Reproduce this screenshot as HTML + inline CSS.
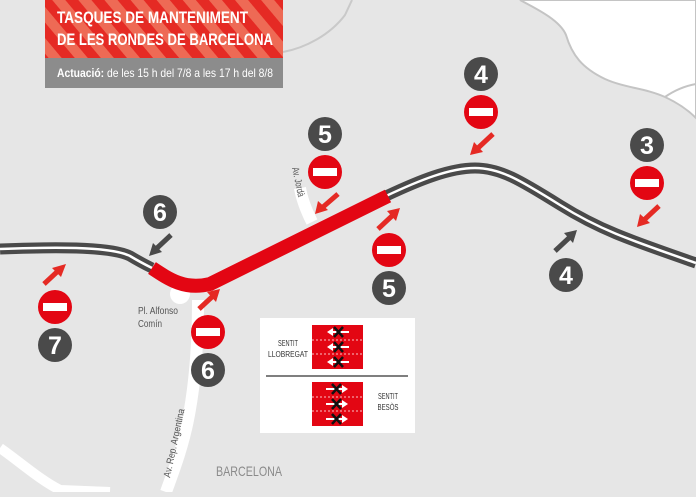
<!DOCTYPE html>
<html><head><meta charset="utf-8"><style>
html,body{margin:0;padding:0;}
body{width:696px;height:492px;overflow:hidden;background:#e6e6e6;font-family:"Liberation Sans",sans-serif;}
</style></head><body>
<svg width="696" height="492" viewBox="0 0 696 492" xmlns="http://www.w3.org/2000/svg" font-family="'Liberation Sans',sans-serif">
<defs>
<pattern id="st" width="20" height="20" patternUnits="userSpaceOnUse" patternTransform="rotate(-40)">
<rect width="20" height="20" fill="#e52a24"/><rect width="10" height="20" fill="#ee6a55"/>
</pattern>
<g id="ne"><circle r="17" fill="#e30613"/><rect x="-12" y="-4" width="24" height="8" fill="#fff"/></g>
</defs>
<rect width="696" height="492" fill="#e6e6e6"/>
<path d="M520,0 C535,8 560,20 566,35 C572,55 582,68 605,79 C625,88 645,88 665,97 C680,104 690,112 696,118 L696,0 Z" fill="#fff" stroke="#c4c4c4" stroke-width="2"/>
<path d="M665,97 C675,90 685,86 696,84" fill="none" stroke="#c4c4c4" stroke-width="2"/>
<path d="M283,52 C305,48 330,35 345,15 L352,0" fill="none" stroke="#c9c9c9" stroke-width="2"/>
<path d="M0,448 C20,462 40,480 60,490 L110,492" fill="none" stroke="#fff" stroke-width="10"/>
<path d="M198,300 C198,340 196,380 188,420 C182,450 172,475 166,492" fill="none" stroke="#fff" stroke-width="12"/>
<circle cx="180" cy="294" r="10" fill="#fff"/>
<path d="M300,188 C302,200 306,210 312,222" fill="none" stroke="#fff" stroke-width="12"/>
<path d="M0,249 C50,247 110,246 130,256 C140,262 148,266 152,268" fill="none" stroke="#4a4a4a" stroke-width="11"/>
<path d="M0,249 C50,247 110,246 130,256 C140,262 148,266 152,268" fill="none" stroke="#fff" stroke-width="2.5"/>
<path d="M386,196 C420,180 450,168 475,168 C500,168 520,180 560,205 C600,230 630,240 696,263" fill="none" stroke="#4a4a4a" stroke-width="11"/>
<path d="M386,196 C420,180 450,168 475,168 C500,168 520,180 560,205 C600,230 630,240 696,263" fill="none" stroke="#fff" stroke-width="2.5"/>
<path d="M152,268 C170,280 185,290 210,284 L388,196" fill="none" stroke="#e30613" stroke-width="14"/>
<g stroke-width="5" fill="none">
<line x1="44" y1="284" x2="58" y2="271" stroke="#e52a24"/><polygon points="66,264 52,268 61,277" fill="#e52a24"/>
<line x1="171" y1="235" x2="156" y2="249" stroke="#4a4a4a"/><polygon points="149,256 153,243 162,252" fill="#4a4a4a"/>
<line x1="199" y1="309" x2="213" y2="296" stroke="#e52a24"/><polygon points="220,289 207,292 216,302" fill="#e52a24"/>
<line x1="338" y1="194" x2="323" y2="207" stroke="#e52a24"/><polygon points="315,214 318,201 328,210" fill="#e52a24"/>
<line x1="378" y1="229" x2="393" y2="215" stroke="#e52a24"/><polygon points="400,208 387,211 396,221" fill="#e52a24"/>
<line x1="493" y1="134" x2="478" y2="148" stroke="#e52a24"/><polygon points="470,155 474,142 483,152" fill="#e52a24"/>
<line x1="555" y1="251" x2="570" y2="237" stroke="#4a4a4a"/><polygon points="577,230 564,233 573,243" fill="#4a4a4a"/>
<line x1="659" y1="206" x2="644" y2="220" stroke="#e52a24"/><polygon points="637,227 640,214 650,223" fill="#e52a24"/>
</g>
<use href="#ne" x="55" y="307"/><use href="#ne" x="208" y="332"/><use href="#ne" x="325" y="172"/>
<use href="#ne" x="389" y="250"/><use href="#ne" x="481" y="112"/><use href="#ne" x="647" y="183"/>
<g font-weight="bold" font-size="25" fill="#fff" text-anchor="middle">
<circle cx="55" cy="345" r="17" fill="#4a4a4a"/><text x="55" y="354">7</text>
<circle cx="160" cy="212" r="17" fill="#4a4a4a"/><text x="160" y="221">6</text>
<circle cx="208" cy="370" r="17" fill="#4a4a4a"/><text x="208" y="379">6</text>
<circle cx="325" cy="134" r="17" fill="#4a4a4a"/><text x="325" y="143">5</text>
<circle cx="389" cy="288" r="17" fill="#4a4a4a"/><text x="389" y="297">5</text>
<circle cx="481" cy="74" r="17" fill="#4a4a4a"/><text x="481" y="83">4</text>
<circle cx="566" cy="275" r="17" fill="#4a4a4a"/><text x="566" y="284">4</text>
<circle cx="647" cy="145" r="17" fill="#4a4a4a"/><text x="647" y="154">3</text>
</g>
<g fill="#555" font-size="10">
<text x="138" y="314" textLength="40" lengthAdjust="spacingAndGlyphs">Pl. Alfonso</text>
<text x="138" y="327" textLength="24" lengthAdjust="spacingAndGlyphs">Comín</text>
<text transform="translate(292,168) rotate(78)" textLength="30" lengthAdjust="spacingAndGlyphs">Av. Jordà</text>
<text transform="translate(170,478) rotate(-78)" textLength="70" lengthAdjust="spacingAndGlyphs">Av. Rep. Argentina</text>
</g>
<text x="216" y="476" fill="#8a8a8a" font-size="14" textLength="66" lengthAdjust="spacingAndGlyphs">BARCELONA</text>
<rect x="45" y="0" width="238" height="58" fill="url(#st)"/>
<rect x="45" y="58" width="238" height="30" fill="#8c8c8c"/>
<g fill="#fff" font-weight="bold" font-size="17">
<text x="57" y="23" textLength="191" lengthAdjust="spacingAndGlyphs">TASQUES DE MANTENIMENT</text>
<text x="57" y="45" textLength="216" lengthAdjust="spacingAndGlyphs">DE LES RONDES DE BARCELONA</text>
</g>
<text x="57" y="77" fill="#fff" font-size="12" textLength="216" lengthAdjust="spacingAndGlyphs"><tspan font-weight="bold">Actuació:</tspan> de les 15 h del 7/8 a les 17 h del 8/8</text>
<rect x="260" y="318" width="155" height="115" fill="#fff"/>
<line x1="266" y1="376" x2="408" y2="376" stroke="#555" stroke-width="1.5"/>
<g font-size="8" fill="#333" text-anchor="middle">
<text x="288" y="346" textLength="20" lengthAdjust="spacingAndGlyphs">SENTIT</text><text x="288" y="357" textLength="40" lengthAdjust="spacingAndGlyphs">LLOBREGAT</text>
<text x="388" y="399" textLength="20" lengthAdjust="spacingAndGlyphs">SENTIT</text><text x="388" y="410" textLength="21" lengthAdjust="spacingAndGlyphs">BESÒS</text>
</g>
<rect x="312" y="325" width="51" height="44" fill="#e30613"/>
<rect x="312" y="382" width="51" height="44" fill="#e30613"/>
<g stroke="#fff" stroke-dasharray="2,2" stroke-width="0.8">
<line x1="312" y1="340" x2="363" y2="340"/><line x1="312" y1="354" x2="363" y2="354"/>
<line x1="312" y1="397" x2="363" y2="397"/><line x1="312" y1="411" x2="363" y2="411"/>
</g>
<g fill="#fff" stroke="#fff" stroke-width="2">
<line x1="332" y1="332" x2="349" y2="332"/><polygon points="327,332 333,328 333,336" stroke="none"/>
<line x1="332" y1="347" x2="349" y2="347"/><polygon points="327,347 333,343 333,351" stroke="none"/>
<line x1="332" y1="362" x2="349" y2="362"/><polygon points="327,362 333,358 333,366" stroke="none"/>
<line x1="326" y1="389" x2="343" y2="389"/><polygon points="348,389 342,385 342,393" stroke="none"/>
<line x1="326" y1="404" x2="343" y2="404"/><polygon points="348,404 342,400 342,408" stroke="none"/>
<line x1="326" y1="419" x2="343" y2="419"/><polygon points="348,419 342,415 342,423" stroke="none"/>
</g>
<g stroke="#111" stroke-width="2.5">
<path d="M334,327 l9,10 M343,327 l-9,10"/><path d="M334,342 l9,10 M343,342 l-9,10"/><path d="M334,357 l9,10 M343,357 l-9,10"/>
<path d="M332,384 l9,10 M341,384 l-9,10"/><path d="M332,399 l9,10 M341,399 l-9,10"/><path d="M332,414 l9,10 M341,414 l-9,10"/>
</g>
</svg>
</body></html>
